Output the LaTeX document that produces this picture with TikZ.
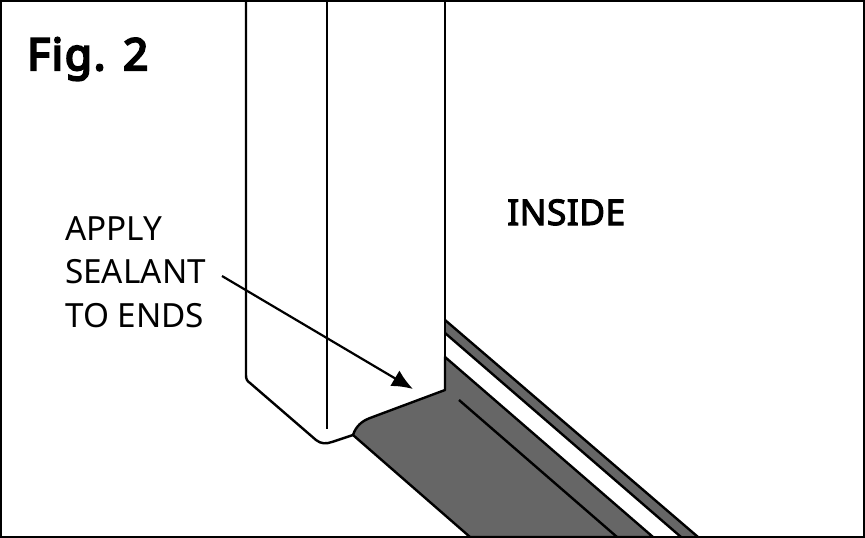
\documentclass[tikz,border=0pt]{standalone}
\usepackage{fontspec}
\setmainfont{Noto Sans}
\newfontfamily\heavyfont[FakeBold=5, LetterSpace=4]{Noto Sans}
\newfontfamily\sidefont[FakeBold=3, LetterSpace=1]{Noto Sans}
\usetikzlibrary{arrows.meta}

\begin{document}
\begin{tikzpicture}[
		x=1pt, y=-1pt,
		outline/.style={line width=2.4pt, line join=round},
		seal/.style={outline, fill=sealgrey},
		callout/.style={line width=2.2pt, -{Latex[length=21pt, width=18pt]}},
		figlabel/.style={font=\fontsize{44}{44}\heavyfont, anchor=base west, inner sep=0pt},
		sidelabel/.style={font=\fontsize{35.5}{36}\sidefont, anchor=base west, inner sep=0pt},
		notelabel/.style={font=\fontsize{33.3}{43.5}\selectfont, anchor=north west, align=left, inner sep=0pt},
	]
		\definecolor{sealgrey}{gray}{0.4}
		\useasboundingbox (0,0) rectangle (865,538);
		
		% back strip and sealant
		\fill[sealgrey] (445,320) -- (698,537) -- (681,537) -- (445,333) -- cycle;
		\draw[outline] (445,320) -- (698,537);
		\draw[outline] (445,333) -- (681,537);
		\draw[seal] (445,390) -- (445,357) -- (653,537) -- (470,537) -- (353,435) .. controls (356,426) and (362,421) .. (370,418) -- cycle;
		\draw[outline] (459,400) -- (617,537);
		
		% post
		\draw[outline] (246,0) -- (246,375) .. controls (246,379) and (247,381) .. (250,383) -- (316,440) .. controls (321,444) and (326,444) .. (332,442) -- (353,435);
		\draw[outline] (445,0) -- (445,390);
		\draw[outline] (327,0) -- (327,429);
		
		\node[figlabel] (figname) at (27,70) {Fig. 2};
		\node[sidelabel] (inside) at (507,225) {INSIDE};
		\node[notelabel] (note) at (65,216) {APPLY\\SEALANT\\TO ENDS};
		
		\coordinate (calloutstart) at (222,276);
		\coordinate (calloutend) at (413,389);
		\draw[callout] (calloutstart) -- (calloutend);
		
		\draw[line width=2.4pt] (1,1) rectangle (864,537);
	\end{tikzpicture}
\end{document}
